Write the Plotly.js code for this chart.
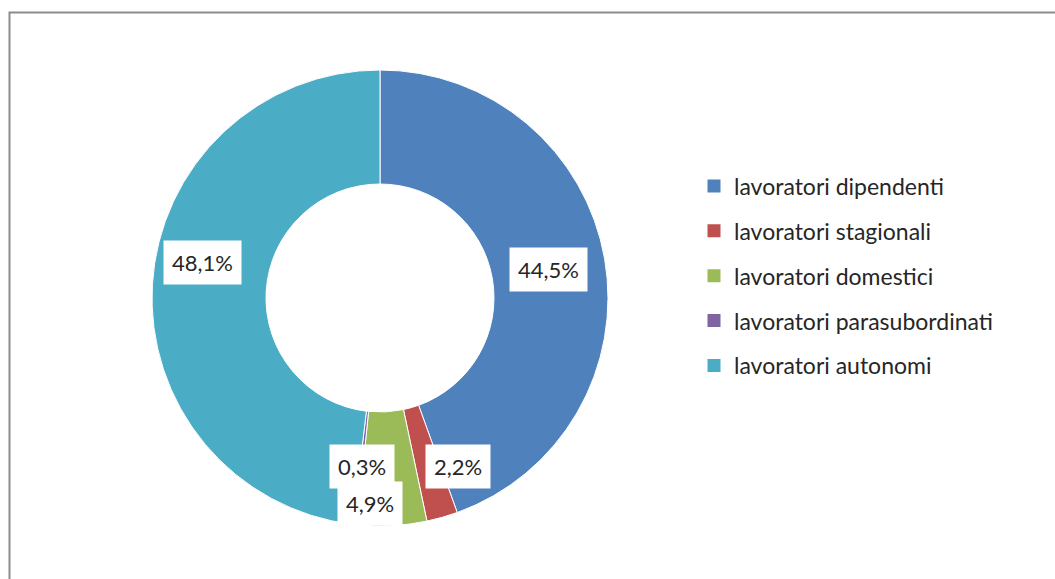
<!DOCTYPE html>
<html>
<head>
<meta charset="utf-8">
<script src="https://cdn.plot.ly/plotly-3.0.1.min.js"></script>
<style>
  html, body { margin: 0; padding: 0; background: #ffffff; }
  #chart { width: 1055px; height: 579px; }
</style>
</head>
<body>
<div id="chart"></div>
<script>
// ---- data ----
const categories = [
  'lavoratori dipendenti',
  'lavoratori stagionali',
  'lavoratori domestici',
  'lavoratori parasubordinati',
  'lavoratori autonomi'
];
const values = [44.5, 2.2, 4.9, 0.3, 48.1];
const labelTexts = ['44,5%', '2,2%', '4,9%', '0,3%', '48,1%'];
const colors = ['#4F81BD', '#C0504D', '#9BBB59', '#8064A2', '#4BACC6'];

// ---- layout constants ----
const W = 1055, H = 579;
const cx = 380, cy = 298, R = 228, hole = 0.5;
const dom = {
  x: [(cx - R) / W, (cx + R) / W],
  y: [(H - cy - R) / H, (H - cy + R) / H]
};
// manual label nudges (pixels), like hand-placed labels in the original
const labelShift = [[0, -1], [31, -4], [-19, -35], [1, 1], [-7, 25]];

const pie = {
  type: 'pie',
  labels: categories,
  values: values,
  sort: false,
  direction: 'clockwise',
  rotation: 0,
  hole: hole,
  textinfo: 'none',
  hoverinfo: 'label+percent',
  marker: { colors: colors, line: { color: '#ffffff', width: 1 } },
  domain: dom,
  showlegend: false
};

// legend entries via empty traces (for item spacing control)
const legendTraces = categories.map((c, i) => ({
  type: 'scatter',
  mode: 'markers',
  x: [null], y: [null],
  name: c,
  legendgroup: 'g' + i,
  marker: { symbol: 'square', size: 13, color: colors[i] },
  showlegend: true,
  hoverinfo: 'skip'
}));

// labels positioned at mid-angle, mid-radius of each slice
const total = values.reduce((a, b) => a + b, 0);
const rMid = R * (1 + hole) / 2;
let cum = 0;
const annotations = values.map((v, i) => {
  const mid = (cum + v / 2) / total * 2 * Math.PI;
  cum += v;
  const px = cx + rMid * Math.sin(mid);
  const py = cy - rMid * Math.cos(mid);
  return {
    xref: 'paper', yref: 'paper',
    x: px / W, y: 1 - py / H,
    xanchor: 'center', yanchor: 'middle',
    xshift: labelShift[i][0], yshift: labelShift[i][1],
    text: labelTexts[i],
    showarrow: false,
    bgcolor: '#ffffff',
    borderpad: 8,
    font: { family: 'Lato, sans-serif', size: 22, color: '#262626' }
  };
});

const layout = {
  width: W, height: H,
  margin: { l: 0, r: 0, t: 0, b: 0 },
  paper_bgcolor: '#ffffff',
  plot_bgcolor: '#ffffff',
  xaxis: { visible: false },
  yaxis: { visible: false },
  showlegend: true,
  legend: {
    x: 694 / W, y: 0.716, xanchor: 'left', yanchor: 'top',
    font: { family: 'Lato, sans-serif', size: 23, color: '#262626' },
    tracegroupgap: 12,
    itemwidth: 30,
    bgcolor: 'rgba(0,0,0,0)'
  },
  annotations: annotations,
  shapes: [{
    type: 'rect', xref: 'paper', yref: 'paper',
    x0: 9.5 / W, x1: 1.2, y0: -0.2, y1: 1 - 12.5 / H,
    line: { color: '#8c8c8c', width: 2 },
    layer: 'below'
  }]
};

Plotly.newPlot('chart', [pie].concat(legendTraces), layout, { displayModeBar: false, staticPlot: true });
</script>
</body>
</html>
